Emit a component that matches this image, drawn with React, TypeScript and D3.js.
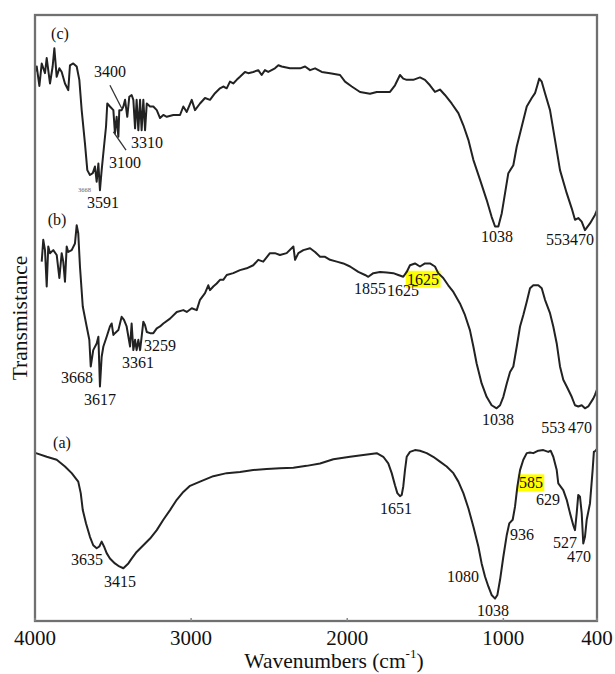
import React from "react";
import * as d3 from "d3";

// ---------- data (wavenumber in cm^-1, transmittance in arbitrary units 0-100) ----------
const wavenumbersC = [4000,3989,3972,3957,3936,3925,3904,3887,3876,3861,3844,3829,3808,3787,3776,3755,3733,3716,3701,3680,3665,3648,3630,3616,3605,3594,3584,3573,3558,3545,3537,3520,3498,3488,3477,3466,3460,3445,3434,3423,3409,3396,3381,3370,3359,3349,3338,3327,3317,3306,3295,3284,3263,3242,3220,3199,3178,3156,3114,3071,3050,3028,2996,2975,2943,2911,2879,2847,2815,2794,2772,2751,2730,2708,2687,2655,2634,2602,2570,2548,2527,2506,2463,2441,2420,2367,2302,2270,2238,2206,2163,2110,2046,2014,1971,1918,1854,1811,1726,1694,1662,1641,1619,1577,1534,1502,1470,1438,1406,1374,1331,1288,1256,1224,1192,1149,1107,1075,1053,1032,1010,989,968,936,914,882,850,818,797,782,770,754,733,701,669,637,594,562,541,520,498,477,445,413,400];
const transmittanceC = [90.6,91.5,88.3,92.0,90.4,92.9,88.7,91.5,94.5,89.8,91.2,90.6,88.7,87.6,91.7,92.0,91.5,89.3,84.3,78.8,74.4,73.6,73.9,75.0,72.5,75.5,71.1,74.4,78.3,81.6,85.4,84.9,84.3,80.5,83.2,79.9,84.3,84.3,84.9,86.0,83.2,86.5,86.8,86.0,81.3,86.0,81.0,86.0,81.0,86.0,81.0,85.4,84.9,84.9,84.3,83.0,83.5,83.2,83.5,83.5,84.9,84.0,86.0,84.3,85.4,86.3,86.0,87.1,87.9,88.2,87.9,89.0,88.7,89.3,89.8,90.6,90.4,90.6,90.9,90.1,90.9,90.6,91.2,91.7,91.5,91.2,91.2,91.5,90.9,91.2,90.6,90.4,90.1,89.0,88.2,87.3,87.0,87.3,87.3,88.4,90.1,89.5,89.3,89.3,89.7,89.3,88.4,87.3,87.7,86.8,85.4,83.8,81.8,79.4,76.1,72.8,69.5,66.7,65.1,65.1,67.3,70.6,73.9,75.2,78.3,81.6,84.9,86.3,87.1,88.4,89.5,89.0,87.1,84.3,79.4,74.4,70.6,68.1,66.2,66.5,65.9,64.5,65.6,67.0,67.8];

const wavenumbersB = [3957,3947,3936,3925,3915,3904,3883,3861,3844,3829,3819,3808,3797,3787,3765,3744,3733,3723,3712,3694,3669,3652,3643,3627,3605,3594,3584,3573,3562,3541,3520,3509,3498,3488,3466,3445,3430,3413,3391,3381,3370,3359,3349,3338,3327,3317,3306,3295,3284,3263,3242,3220,3199,3178,3135,3092,3050,3028,2996,2964,2943,2911,2890,2879,2858,2836,2815,2794,2772,2730,2687,2644,2602,2570,2538,2495,2463,2431,2388,2345,2334,2313,2281,2238,2206,2174,2142,2110,2067,2025,1982,1929,1886,1865,1833,1790,1747,1705,1673,1641,1619,1598,1566,1534,1502,1470,1438,1417,1385,1353,1320,1278,1246,1214,1192,1171,1139,1107,1075,1043,1021,1000,978,957,936,914,893,872,850,829,808,776,754,733,701,680,658,637,616,594,562,541,520,498,477,456,424,413,400];
const transmittanceB = [59.3,62.9,61.2,55.2,61.8,60.7,61.2,60.4,56.6,60.7,59.3,56.0,61.8,60.9,61.2,62.3,65.3,64.0,58.5,51.9,48.6,46.4,42.0,44.7,45.8,46.9,38.7,43.6,45.3,46.9,48.6,49.1,47.2,47.5,48.0,50.2,49.7,48.6,45.3,49.1,44.7,46.4,44.7,46.4,44.7,46.9,49.4,48.8,47.7,47.5,47.5,48.3,48.6,49.1,49.9,51.0,51.3,51.0,51.6,51.3,53.0,54.1,55.4,54.6,55.2,55.7,56.3,56.3,57.1,57.4,57.9,58.2,58.7,59.6,59.3,60.7,60.7,60.4,60.7,61.8,59.6,60.7,61.2,61.5,60.9,60.1,60.1,59.6,59.3,59.0,58.5,57.6,57.1,56.8,57.4,57.6,57.5,57.4,57.1,56.8,57.6,58.7,59.0,58.5,59.0,59.0,58.5,57.4,56.6,55.4,54.3,52.4,50.5,48.0,45.3,42.5,39.2,37.0,35.6,35.1,35.6,37.0,39.2,41.1,42.0,45.3,48.6,50.5,52.7,54.9,55.4,55.4,54.9,53.0,50.8,48.6,45.8,42.0,39.8,38.7,37.0,35.6,35.4,35.6,35.1,35.4,36.7,37.3,38.2];

const wavenumbersA = [4000,3994,3925,3861,3808,3765,3723,3707,3694,3673,3648,3627,3605,3588,3573,3558,3541,3520,3488,3460,3434,3402,3381,3349,3306,3263,3220,3178,3135,3092,3050,3007,2943,2858,2772,2687,2602,2516,2431,2345,2260,2174,2089,1982,1897,1811,1769,1737,1715,1694,1679,1662,1651,1641,1630,1619,1598,1566,1534,1491,1449,1406,1363,1320,1288,1256,1224,1192,1160,1139,1117,1096,1075,1053,1038,1021,1000,978,962,940,925,910,893,872,850,829,808,776,744,712,697,680,658,648,616,594,573,552,541,530,520,509,498,488,477,466,445,428,420,409,400];
const transmittanceA = [27.8,27.7,27.1,26.6,25.5,24.4,23.0,21.1,18.3,16.1,13.9,12.5,12.0,12.3,13.1,12.3,11.2,10.3,9.5,9.0,8.7,9.5,10.3,11.4,12.5,13.6,15.0,16.7,18.3,20.0,21.3,22.3,23.0,23.9,24.4,24.6,24.9,25.1,25.2,25.3,25.6,26.0,26.7,27.1,27.4,27.7,27.1,26.0,24.4,22.4,21.1,20.6,20.8,22.2,24.9,27.1,27.9,28.2,28.1,27.7,27.1,26.3,25.5,24.4,23.0,21.1,18.6,15.6,12.3,9.5,7.3,5.7,4.3,3.7,4.3,6.8,10.6,14.2,16.1,16.7,18.9,22.2,24.9,26.6,27.7,27.8,27.7,28.1,28.2,27.9,28.1,27.1,24.9,22.7,21.6,20.0,17.8,15.8,15.0,17.8,20.8,20.5,17.8,12.8,13.9,16.7,19.4,24.9,27.9,28.1,28.4];

const xTickValues = [4000, 3000, 2000, 1000, 400];
const xTickLabels = ["4000", "3000", "2000", "1000", "400"];

// peak labels: [text, wavenumber, transmittance, highlighted]
const labelsC: [string, number, number, boolean][] = [
  ["(c)", 3840, 97.0, false],
  ["3400", 3520, 90.6, false],
  ["3310", 3283, 78.9, false],
  ["3100", 3423, 75.6, false],
  ["3591", 3564, 69.1, false],
  ["1038", 1040, 63.4, false],
  ["553470", 573, 62.9, false],
];
const tinyLabelsC: [string, number, number][] = [["3668", 3683, 71.2]];
const pointersC: [number, number, number, number][] = [
  [3520, 88.4, 3445, 84.6],
  [3498, 80.7, 3417, 77.7],
];
const labelsB: [string, number, number, boolean][] = [
  ["(b)", 3859, 66.2, false],
  ["3668", 3731, 40.1, false],
  ["3617", 3584, 36.6, false],
  ["3361", 3340, 42.7, false],
  ["3259", 3199, 45.5, false],
  ["1855", 1854, 54.8, false],
  ["1625", 1643, 54.6, false],
  ["1625", 1514, 56.4, true],
  ["1038", 1034, 33.2, false],
  ["553", 680, 32.0, false],
  ["470", 509, 32.0, false],
];
const labelsA: [string, number, number, boolean][] = [
  ["(a)", 3827, 29.4, false],
  ["3635", 3667, 10.1, false],
  ["3415", 3455, 6.6, false],
  ["1651", 1687, 18.6, false],
  ["1080", 1258, 7.3, false],
  ["1038", 1066, 1.8, false],
  ["936", 880, 14.2, false],
  ["585", 823, 22.8, true],
  ["629", 714, 20.1, false],
  ["527", 605, 13.0, false],
  ["470", 515, 10.6, false],
];

const W = 615;
const H = 674;
const margin = { left: 35, right: 18, top: 15, bottom: 53 };
const FONT = "'Liberation Serif', 'Times New Roman', serif";

export default function App() {
  const x = d3.scaleLinear().domain([4000, 400]).range([margin.left, W - margin.right]);
  const y = d3.scaleLinear().domain([0, 100]).range([H - margin.bottom, margin.top]);
  const line = d3
    .line<[number, number]>()
    .x((d) => x(d[0]))
    .y((d) => y(d[1]));

  const series = [
    { w: wavenumbersA, t: transmittanceA },
    { w: wavenumbersB, t: transmittanceB },
    { w: wavenumbersC, t: transmittanceC },
  ];

  const allLabels = [...labelsA, ...labelsB, ...labelsC];
  const x0 = x(4000);
  const x1 = x(400);
  const y0 = y(0);
  const y1 = y(100);

  return (
    <>
      <style>{"body{margin:0;background:#fff}"}</style>
      <svg width={W} height={H} style={{ display: "block", fontFamily: FONT }}>
        <rect x={0} y={0} width={W} height={H} fill="#fff" />
        {/* highlighted label backgrounds */}
        {allLabels
          .filter((l) => l[3])
          .map((l, i) => (
            <rect
              key={"hl" + i}
              x={x(l[1]) - l[0].length * 4.1 - 1}
              y={y(l[2]) - 8.5}
              width={l[0].length * 8.2 + 2}
              height={17}
              fill="#ffff00"
            />
          ))}
        {/* spectra */}
        {series.map((s, i) => (
          <path
            key={"s" + i}
            d={line(s.w.map((w, j) => [w, s.t[j]] as [number, number])) || ""}
            fill="none"
            stroke="#222"
            strokeWidth={2}
            strokeLinejoin="round"
          />
        ))}
        {/* pointer lines */}
        {pointersC.map((p, i) => (
          <line
            key={"p" + i}
            x1={x(p[0])}
            y1={y(p[1])}
            x2={x(p[2])}
            y2={y(p[3])}
            stroke="#333"
            strokeWidth={1.3}
          />
        ))}
        {/* frame */}
        <rect x={x0} y={y1} width={x1 - x0} height={y0 - y1} fill="none" stroke="#707070" strokeWidth={2.3} />
        {/* ticks */}
        {xTickValues.map((v, i) => (
          <g key={"t" + i}>
            <line x1={x(v)} x2={x(v)} y1={y0} y2={y0 - 3} stroke="#888" strokeWidth={1.5} />
            <text
              x={x(v)}
              y={y0 + 17}
              textAnchor="middle"
              dominantBaseline="central"
              fontSize={21}
              fill="#111"
            >
              {xTickLabels[i]}
            </text>
          </g>
        ))}
        {/* peak labels */}
        {allLabels.map((l, i) => (
          <text
            key={"l" + i}
            x={x(l[1])}
            y={y(l[2])}
            textAnchor="middle"
            dominantBaseline="central"
            fontSize={16}
            fill="#111"
          >
            {l[0]}
          </text>
        ))}
        {tinyLabelsC.map((l, i) => (
          <text
            key={"tl" + i}
            x={x(l[1])}
            y={y(l[2])}
            textAnchor="middle"
            dominantBaseline="central"
            fontSize={6.5}
            fill="#666"
          >
            {l[0]}
          </text>
        ))}
        {/* axis titles */}
        <text x={334} y={661} textAnchor="middle" dominantBaseline="central" fontSize={21.5} fill="#111">
          Wavenumbers (cm
          <tspan dy={-8} fontSize={13}>-1</tspan>
          <tspan dy={8}>)</tspan>
        </text>
        <text
          transform={`translate(20, ${(y0 + y1) / 2}) rotate(-90)`}
          textAnchor="middle"
          dominantBaseline="central"
          fontSize={21.5}
          fill="#111"
        >
          Transmistance
        </text>
      </svg>
    </>
  );
}
